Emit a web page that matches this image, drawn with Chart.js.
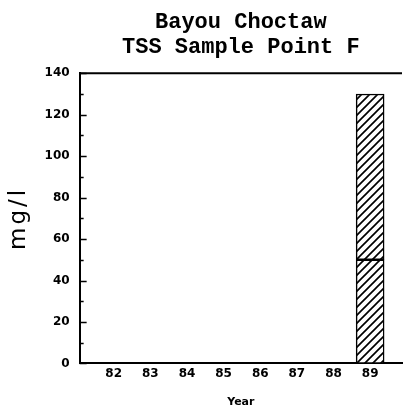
<!DOCTYPE html>
<html><head><meta charset="utf-8">
<script src="https://cdn.jsdelivr.net/npm/chart.js@4.4.1/dist/chart.umd.min.js"></script>
<style>html,body{margin:0;padding:0;background:#fff}</style>
</head><body>
<canvas id="c" width="403" height="409"></canvas>
<script>
const titleLines = ['Bayou Choctaw', 'TSS Sample Point F'];
const years = [82, 83, 84, 85, 86, 87, 88, 89];
const lowerSegment = [null, null, null, null, null, null, null, 50];
const upperSegment = [null, null, null, null, null, null, null, 80];
const yTickValues = [0, 20, 40, 60, 80, 100, 120, 140];
const yTitle = 'mg/l';
const xTitle = 'Year';

function hatch() {
  const s = 8;
  const c = document.createElement('canvas');
  c.width = s; c.height = s;
  const x = c.getContext('2d');
  x.fillStyle = '#fff'; x.fillRect(0, 0, s, s);
  x.strokeStyle = '#000'; x.lineWidth = 1.7; x.lineCap = 'square';
  x.beginPath();
  x.moveTo(0, s); x.lineTo(s, 0);
  x.moveTo(-2, 2); x.lineTo(2, -2);
  x.moveTo(s - 2, s + 2); x.lineTo(s + 2, s - 2);
  x.stroke();
  return x.createPattern(c, 'repeat');
}
const pat = hatch();

const frame = {
  id: 'frame',
  beforeDraw(chart) {
    const y = chart.scales.y;
    if (y && !y._spaced) {
      const orig = y.drawTitle.bind(y);
      y.drawTitle = function () {
        const c = this.ctx;
        const prev = c.letterSpacing;
        c.letterSpacing = '3px';
        orig();
        c.letterSpacing = prev || '0px';
      };
      y._spaced = true;
    }
  },
  afterDatasetsDraw(chart) {
    const { ctx, chartArea: a, scales: { y } } = chart;
    ctx.save();
    ctx.strokeStyle = '#000';
    ctx.lineWidth = 2;
    ctx.beginPath();
    ctx.moveTo(a.left, a.top); ctx.lineTo(a.right, a.top);
    ctx.stroke();
    ctx.lineWidth = 1.5;
    ctx.beginPath();
    for (let v = y.min; v <= y.max; v += 10) {
      const py = Math.round(y.getPixelForValue(v)) + 0.5;
      ctx.moveTo(a.left, py);
      ctx.lineTo(a.left + (v % 20 ? 4 : 7), py);
    }
    ctx.stroke();
    ctx.restore();
  }
};

const mkData = arr => years.map((yr, i) => ({ x: yr, y: arr[i] }));

new Chart(document.getElementById('c'), {
  type: 'bar',
  data: {
    datasets: [
      { data: mkData(lowerSegment), backgroundColor: pat, borderColor: '#000', borderWidth: 1.5, borderSkipped: false, barThickness: 28 },
      { data: mkData(upperSegment), backgroundColor: pat, borderColor: '#000', borderWidth: 1.5, borderSkipped: false, barThickness: 28 }
    ]
  },
  options: {
    responsive: false,
    animation: false,
    devicePixelRatio: 1,
    layout: { padding: { left: 5, right: 1, top: 4, bottom: 0 } },
    plugins: {
      legend: { display: false },
      tooltip: { enabled: false },
      title: {
        display: true,
        fullSize: false,
        text: titleLines,
        color: '#000',
        font: { family: 'Liberation Mono', weight: 'bold', size: 22, lineHeight: 1.12 },
        padding: { top: 6, bottom: 14 }
      }
    },
    scales: {
      x: {
        type: 'linear',
        min: 81.07, max: 89.87,
        stacked: true,
        offset: false,
        afterBuildTicks: s => { s.ticks = years.map(v => ({ value: v })); },
        ticks: { color: '#000', font: { family: 'DejaVu Sans', weight: 'bold', size: 12 }, padding: 3, maxRotation: 0, callback: v => String(v) },
        grid: { display: false, drawTicks: false },
        border: { display: true, color: '#000', width: 2 },
        title: { display: true, text: xTitle, color: '#000', font: { family: 'DejaVu Sans', weight: 'bold', size: 11 }, padding: { top: 12, bottom: 0 } }
      },
      y: {
        min: 0, max: 140,
        stacked: true,
        afterBuildTicks: s => { s.ticks = yTickValues.map(v => ({ value: v })); },
        ticks: { color: '#000', font: { family: 'DejaVu Sans', weight: 'bold', size: 12 }, padding: 10 },
        grid: { display: false, drawTicks: false },
        border: { display: true, color: '#000', width: 2 },
        title: { display: true, text: yTitle, color: '#000', font: { family: 'DejaVu Sans', size: 23 }, padding: { top: 0, bottom: 2 } }
      }
    }
  },
  plugins: [frame]
});
</script>
</body></html>
